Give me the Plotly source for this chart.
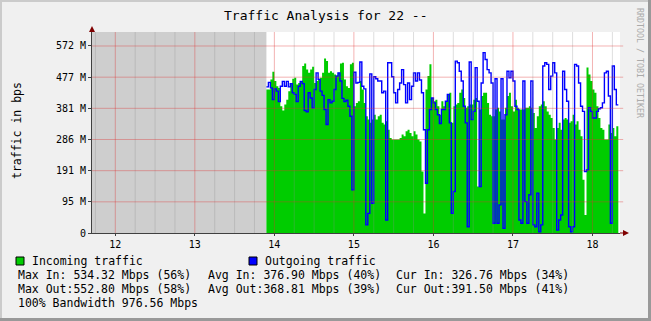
import plotly.graph_objects as go
import pandas as pd

# ---------------- data (Mbps) ----------------
incoming = [
    439, 439, 470, 493, 465, 449, 444, 388, 375, 393, 408, 434, 459, 472, 475, 454, 459, 465, 511, 519,
    500, 490, 500, 509, 459, 465, 472, 475, 490, 534, 526, 490, 495, 490, 485, 482, 490, 519, 521, 470,
    449, 444, 516, 521,
    388, 398, 403, 465, 439, 398, 357, 347, 337, 347, 362, 347, 357, 362, 337, 332, 342, 316, 291, 286,
    286, 286, 286, 291, 301, 296, 311, 316, 306, 296, 311, 301, 286, 280, 188, 60, 439, 480, 516, 413,
    403, 408, 388, 362, 403,
    388, 403, 424, 429, 337, 388, 393, 398, 429, 439, 413, 383, 388, 393, 393, 408, 413, 142, 378, 419,
    429, 429, 398, 362, 357, 357, 378, 383, 372, 347, 347, 383, 419, 429, 388, 372, 408, 383, 378, 378,
    378, 383, 383, 388, 383,
    367, 321, 357, 388, 393, 403, 388, 372, 362, 352, 321, 286, 321, 337, 316, 347, 352, 347, 337, 342,
    362, 332, 342, 316, 296, 163, 55, 506, 485, 465, 439, 429, 388, 352, 321, 316, 286, 286, 332, 306,
    321, 296, 327,
]
outgoing = [
    447, 461, 444, 408, 441, 434, 402, 449, 464, 449, 464, 447, 457, 429, 424, 402, 449, 464, 457, 375,
    371, 429, 413, 383, 439, 490, 470, 434, 421, 378, 332, 408, 398, 403, 439, 480, 490, 465, 412, 402,
    406, 388, 357, 132,
    492, 459, 461, 523, 449, 441, 25, 60, 487, 91, 478, 472, 465, 465, 429, 434, 40, 521, 521, 478,
    429, 398, 439, 459, 500, 454, 398, 459, 408, 449, 490, 465, 490, 468, 429, 316, 152, 316, 378, 413,
    398, 378, 362, 335, 378,
    378, 403, 424, 337, 60, 127, 526, 521, 495, 465, 388, 337, 19, 523, 347, 372, 506, 403, 142, 459,
    552, 531, 500, 490, 459, 30, 472, 30, 86, 472, 14, 362, 495, 475, 495, 465, 388, 378, 40, 30,
    465, 96, 30, 117, 465,
    25, 19, 122, 4, 25, 511, 521, 516, 439, 480, 521, 490, 9, 40, 55, 495, 439, 403, 19, 4,
    19, 516, 511, 459, 388, 372, 188, 193, 383, 372, 352, 352, 372, 380, 383, 398, 490, 495, 419, 30,
    511, 439, 392,
]
data_start = "2024-01-01 13:54:00"
step_seconds = 90
x_range = ["2024-01-01 11:42:25", "2024-01-01 18:20:46"]
y_max = 615
y_tick_vals = [0, 95.367, 190.735, 286.102, 381.470, 476.837, 572.205]
y_tick_text = ["0", "95 M", "191 M", "286 M", "381 M", "477 M", "572 M"]

title_text = "Traffic Analysis for 22 --"
y_title = "traffic in bps"
series_names = ["Incoming traffic", "Outgoing traffic"]
series_colors = ["#00CC00", "#0000FF"]
stats_rows = [
    ["Max In: 534.32 Mbps (56%)", "Avg In: 376.90 Mbps (40%)", "Cur In: 326.76 Mbps (34%)"],
    ["Max Out:552.80 Mbps (58%)", "Avg Out:368.81 Mbps (39%)", "Cur Out:391.50 Mbps (41%)"],
]
bandwidth_text = "100% Bandwidth 976.56 Mbps"
watermark = "RRDTOOL / TOBI OETIKER"

# ---------------- geometry ----------------
W, H = 651, 321
ML, MR, MT, MB = 92, 31, 32, 88
PW = W - ML - MR
PH = H - MT - MB
FONT = "DejaVu Sans Mono"


def px(x):
    return (x - ML) / PW


def py(y):
    return 1 - (y - MT) / PH


times = pd.date_range(data_start, periods=len(incoming) + 1, freq=f"{step_seconds}s")
inc_plot = incoming + [incoming[-1]]
out_plot = outgoing + [outgoing[-1]]

fig = go.Figure()
fig.add_trace(go.Scatter(
    x=times, y=inc_plot, mode="lines", line=dict(width=0, shape="hv", color=series_colors[0]),
    fill="tozeroy", fillcolor=series_colors[0], name=series_names[0], hoverinfo="skip"))
fig.add_trace(go.Scatter(
    x=times, y=out_plot, mode="lines", line=dict(width=1.4, shape="hv", color=series_colors[1]),
    name=series_names[1], hoverinfo="skip"))

shapes = []
# unknown (no data) region
shapes.append(dict(type="rect", xref="x", yref="paper", x0=x_range[0], x1=times[0], y0=0, y1=1,
                   fillcolor="#CECECE", line=dict(width=0), layer="below"))
# vertical grid
for t in pd.date_range("2024-01-01 11:45", "2024-01-01 18:15", freq="15min"):
    major = t.minute == 0
    shapes.append(dict(type="line", xref="x", yref="paper", x0=t, x1=t, y0=0, y1=1,
                       line=dict(color="rgba(222,48,48,0.37)" if major else "rgba(143,143,143,0.30)", width=1),
                       layer="above"))
# horizontal grid
for v in y_tick_vals[1:]:
    shapes.append(dict(type="line", xref="paper", yref="y", x0=0, x1=1.006, y0=v, y1=v,
                       line=dict(color="rgba(222,48,48,0.37)", width=1), layer="above"))
# axis arrows
shapes.append(dict(type="line", xref="paper", yref="paper", x0=px(620), x1=px(624), y0=0, y1=0,
                   line=dict(color="#7F0000", width=1), layer="above"))
shapes.append(dict(type="path", xref="paper", yref="paper",
                   path=f"M {px(623)} {py(230)} L {px(629)} {py(233)} L {px(623)} {py(236)} Z",
                   fillcolor="#7F0000", line=dict(color="#7F0000", width=0), layer="above"))
shapes.append(dict(type="path", xref="paper", yref="paper",
                   path=f"M {px(89)} {py(32)} L {px(92)} {py(26)} L {px(95)} {py(32)} Z",
                   fillcolor="#7F0000", line=dict(color="#7F0000", width=0), layer="above"))
# frame shading
shapes.append(dict(type="rect", xref="paper", yref="paper", x0=px(0), x1=px(W), y0=py(0), y1=py(2),
                   fillcolor="#CBCBCB", line=dict(width=0), layer="above"))
shapes.append(dict(type="rect", xref="paper", yref="paper", x0=px(0), x1=px(2), y0=py(0), y1=py(H),
                   fillcolor="#CBCBCB", line=dict(width=0), layer="above"))
shapes.append(dict(type="rect", xref="paper", yref="paper", x0=px(W - 3), x1=px(W), y0=py(0), y1=py(H),
                   fillcolor="#999999", line=dict(width=0), layer="above"))
shapes.append(dict(type="rect", xref="paper", yref="paper", x0=px(0), x1=px(W), y0=py(H - 3), y1=py(H),
                   fillcolor="#999999", line=dict(width=0), layer="above"))
# legend swatches
for sx, col in [(16, series_colors[0]), (249, series_colors[1])]:
    shapes.append(dict(type="rect", xref="paper", yref="paper", x0=px(sx), x1=px(sx + 8),
                       y0=py(257), y1=py(265), fillcolor=col, line=dict(color="#000000", width=1)))

annotations = []


def txt(x, y, s, size=11.5, anchor="left", color="#000000", angle=0):
    annotations.append(dict(xref="paper", yref="paper", x=px(x), y=py(y), text=s, showarrow=False,
                            xanchor=anchor, yanchor="middle", textangle=angle,
                            font=dict(family=FONT, size=size, color=color)))


txt(325.5, 16, title_text, size=13, anchor="center")
txt(17, 131, y_title, size=11.5, anchor="center", angle=-90)
txt(640, 63, watermark, size=8.3, anchor="center", color="#AAAAAA", angle=90)
txt(30, 261, series_names[0])
txt(263, 261, series_names[1])
for row, yy in zip(stats_rows, [275, 289]):
    for s, xx in zip(row, [16, 206, 394]):
        txt(xx, yy, s)
txt(16, 303, bandwidth_text)

fig.update_layout(
    width=W, height=H, margin=dict(l=ML, r=MR, t=MT, b=MB),
    paper_bgcolor="#F0F0F0", plot_bgcolor="#FFFFFF", showlegend=False,
    shapes=shapes, annotations=annotations,
    xaxis=dict(type="date", range=x_range, showgrid=False, zeroline=False,
               tick0="2024-01-01 12:00", dtick=3600000, tickformat="%H",
               ticks="outside", ticklen=2, tickcolor="#404040",
               showline=True, linecolor="#404040", linewidth=1,
               tickfont=dict(family=FONT, size=10, color="#000000")),
    yaxis=dict(range=[0, y_max], showgrid=False, zeroline=False,
               tickmode="array", tickvals=y_tick_vals, ticktext=y_tick_text,
               ticks="outside", ticklen=3, tickcolor="#404040",
               showline=True, linecolor="#404040", linewidth=1,
               tickfont=dict(family=FONT, size=10, color="#000000")),
)

fig.write_html("out.html", config={"displayModeBar": False})
